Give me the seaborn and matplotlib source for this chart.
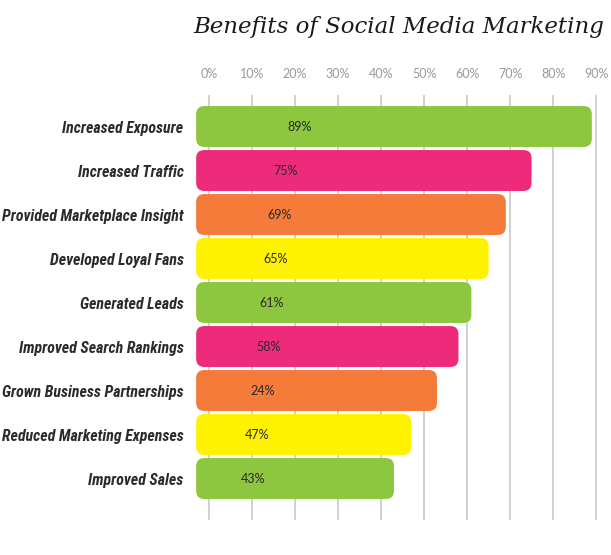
import matplotlib
matplotlib.use("Agg")
import matplotlib.pyplot as plt
import seaborn as sns
import pandas as pd
from matplotlib.patches import FancyBboxPatch

# ---------- data ----------
benefits = ["Increased Exposure", "Increased Traffic", "Provided Marketplace Insight",
            "Developed Loyal Fans", "Generated Leads", "Improved Search Rankings",
            "Grown Business Partnerships", "Reduced Marketing Expenses", "Improved Sales"]
values = [89, 75, 69, 65, 61, 58, 53, 47, 43]
value_labels = ["89%", "75%", "69%", "65%", "61%", "58%", "24%", "47%", "43%"]
ticks = [0, 10, 20, 30, 40, 50, 60, 70, 80, 90]
tick_labels = ["0%", "10%", "20%", "30%", "40%", "50%", "60%", "70%", "80%", "90%"]
bar_colors = ["#8DC63F", "#EE2A7B", "#F47B3A", "#FFF200",
              "#8DC63F", "#EE2A7B", "#F47B3A", "#FFF200", "#8DC63F"]

df = pd.DataFrame({"benefit": benefits, "value": values})

sns.set_theme(style="white")
fig = plt.figure(figsize=(6.11, 5.55), dpi=100)
ax = fig.add_axes([194 / 611, 1 - 520 / 555, 415 / 611, 425 / 555])

sns.barplot(data=df, x="value", y="benefit", hue="benefit", palette=bar_colors,
            saturation=1, legend=False, width=0.93, ax=ax, zorder=2)

ax.set_xlim(-3.5, 93)
ax.set_ylim(8.943, -0.716)

# swap plain bars for rounded ones, starting a little left of 0
start = -3.0
for bar in list(ax.patches):
    y0 = bar.get_y()
    w, h = bar.get_width(), bar.get_height()
    col = bar.get_facecolor()
    bar.remove()
    rb = FancyBboxPatch((start, y0), w - start, h,
                        boxstyle="round,pad=0,rounding_size=1.9",
                        mutation_aspect=0.097, facecolor=col, edgecolor="none",
                        zorder=2)
    ax.add_patch(rb)

# value labels inside bars
for i, (v, lab) in enumerate(zip(values, value_labels)):
    ax.text(v * 0.237, i, lab, ha="center", va="center", fontsize=9,
            color="#2A2A2A", family=["Lato", "DejaVu Sans"], zorder=3)

# grid + ticks on top
ax.set_xticks(ticks)
ax.set_xticklabels(tick_labels)
ax.xaxis.tick_top()
ax.tick_params(axis="x", length=0, pad=11, labelsize=9, labelcolor="#9A9A9A")
for lbl in ax.get_xticklabels():
    lbl.set_family(["Lato", "DejaVu Sans"])
for t in ticks:
    ax.axvline(t, color="#C8C8C8", lw=1.2, zorder=1)

ax.set_yticks(range(len(benefits)))
ax.set_yticklabels(benefits)
ax.tick_params(axis="y", length=0, pad=7.5, labelsize=11.4, labelcolor="#2B2B2B")
for lbl in ax.get_yticklabels():
    lbl.set_family(["Roboto Condensed", "Liberation Sans Narrow", "Roboto", "DejaVu Sans"])
    lbl.set_fontweight("bold")
    lbl.set_fontstyle("italic")

ax.set_xlabel("")
ax.set_ylabel("")
sns.despine(ax=ax, left=True, bottom=True, top=True, right=True)

fig.text(399 / 611, 1 - 27 / 555, "Benefits of Social Media Marketing",
         ha="center", va="center", fontsize=16.5, color="#1A1A1A",
         family=["DejaVu Serif", "DejaVu Sans"], style="italic")

fig.savefig("out.png", dpi=100, facecolor="white")
